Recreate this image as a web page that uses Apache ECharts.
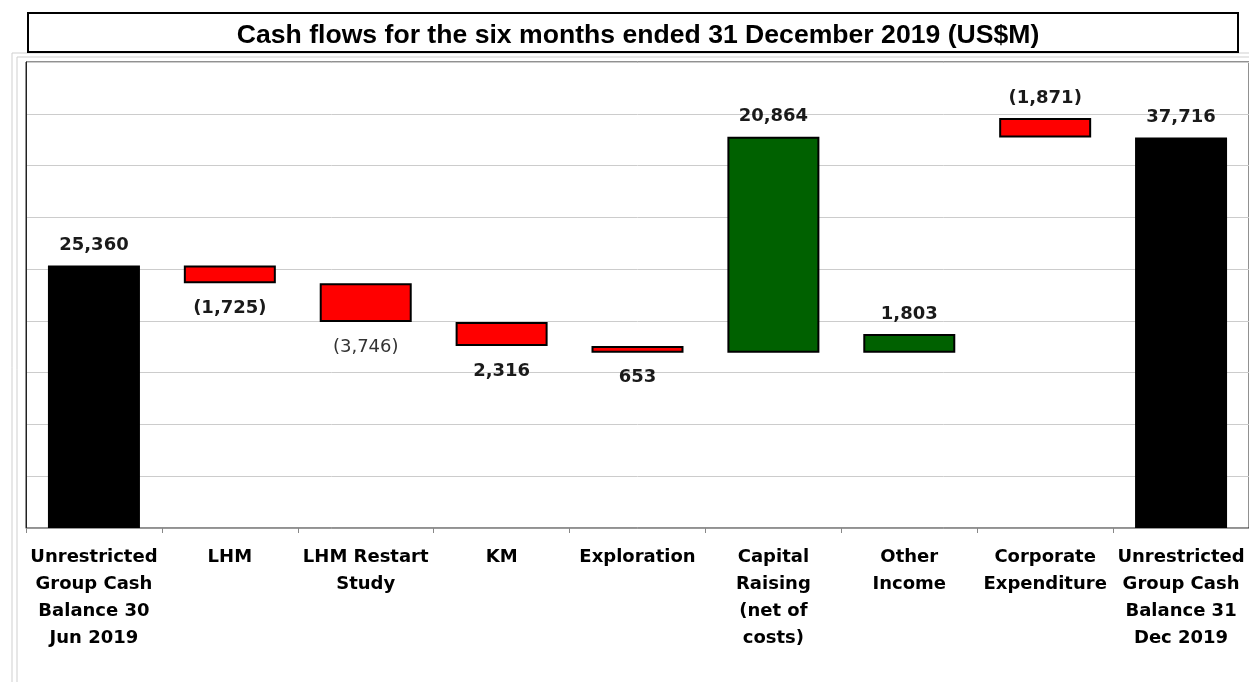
<!DOCTYPE html>
<html>
<head>
<meta charset="utf-8">
<script src="https://cdn.jsdelivr.net/npm/echarts@6/dist/echarts.min.js"></script>
<style>
    html, body { margin: 0; padding: 0; background: #fff; }
    #cashFlow_chart { width: 1249px; height: 682px; }
</style>
</head>
<body>
<div id="cashFlow_chart"></div>
<script>
    // categories as printed under the axis
    var categories = [
        'Unrestricted\nGroup Cash\nBalance 30\nJun 2019',
        'LHM',
        'LHM Restart\nStudy',
        'KM',
        'Exploration',
        'Capital\nRaising\n(net of\ncosts)',
        'Other\nIncome',
        'Corporate\nExpenditure',
        'Unrestricted\nGroup Cash\nBalance 31\nDec 2019'
    ];
    // cash movement of each step (US$M)
    var flowValues = [25360, -1725, -3746, -2316, -653, 20864, 1803, -1871, 37716];
    // where each floating bar starts, as drawn in the picture
    var barBase = [0, 23635, 19889, 17573, 16920, 16920, 16920, 37716, 0];
    // labels exactly as printed
    var valueLabels = ['25,360', '(1,725)', '(3,746)', '2,316', '653', '20,864', '1,803', '(1,871)', '37,716'];

    var chart = echarts.init(document.getElementById('cashFlow_chart'));

    var below = [false, true, true, true, true, false, false, false, false];

    var barData = flowValues.map(function (v, i) {
        var colour = (i === 0 || i === flowValues.length - 1) ? '#000000' : (v < 0 ? '#ff0000' : '#006100');
        return {
            value: Math.abs(v),
            itemStyle: {
                color: colour,
                borderColor: '#000',
                borderWidth: colour === '#000000' ? 0 : 2
            },
            label: {
                show: true,
                position: below[i] ? 'bottom' : 'top',
                distance: below[i] ? 16 : 11,
                formatter: valueLabels[i],
                fontWeight: i === 2 ? 'normal' : 'bold',
                color: i === 2 ? '#333' : '#1a1a1a'
            }
        };
    });

    var option = {
        animation: false,
        title: {
            text: 'Cash flows for the six months ended 31 December 2019 (US$M)',
            left: 633,
            textAlign: 'center',
            top: 17,
            textStyle: {
                fontFamily: 'Liberation Sans',
                fontWeight: 'bold',
                fontSize: 26.6,
                color: '#000'
            }
        },
        graphic: [
            {
                type: 'rect',
                shape: {x: 28, y: 13, width: 1210, height: 39},
                style: {fill: 'none', stroke: '#000', lineWidth: 2},
                z: 10
            },
            {
                type: 'polyline',
                shape: {points: [[12, 682], [12, 53], [1249, 53]]},
                style: {fill: 'none', stroke: '#cfcfcf', lineWidth: 1}
            },
            {
                type: 'polyline',
                shape: {points: [[17, 682], [17, 57], [1249, 57]]},
                style: {fill: 'none', stroke: '#cfcfcf', lineWidth: 1}
            }
        ],
        grid: {
            left: 26,
            right: 0,
            top: 62,
            bottom: 154,
            show: true,
            borderColor: '#222',
            borderWidth: 1
        },
        xAxis: {
            type: 'category',
            data: categories,
            axisLine: {lineStyle: {color: '#999', width: 1}},
            axisTick: {show: true, length: 5, lineStyle: {color: '#888'}},
            axisLabel: {
                interval: 0,
                margin: 16,
                fontFamily: 'DejaVu Sans',
                fontWeight: 'bold',
                fontSize: 18,
                lineHeight: 27,
                color: '#000'
            }
        },
        yAxis: {
            type: 'value',
            min: 0,
            max: 45000,
            interval: 5000,
            axisLabel: {show: false},
            axisTick: {show: false},
            axisLine: {show: true, lineStyle: {color: '#222'}},
            splitLine: {lineStyle: {color: '#cccccc'}}
        },
        series: [
            {
                type: 'bar',
                stack: 'wf',
                silent: true,
                itemStyle: {color: 'transparent'},
                data: barBase
            },
            {
                type: 'bar',
                stack: 'wf',
                barWidth: 92,
                label: {
                    fontFamily: 'DejaVu Sans',
                    fontSize: 18
                },
                data: barData
            }
        ]
    };

    chart.setOption(option);
</script>
</body>
</html>
